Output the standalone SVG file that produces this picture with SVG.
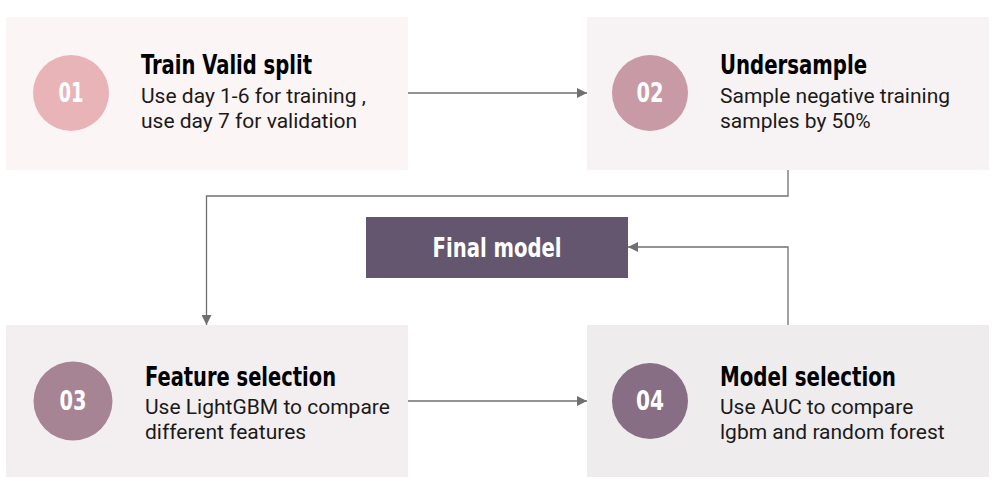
<svg xmlns="http://www.w3.org/2000/svg" width="995" height="493" viewBox="0 0 995 493">
<defs>
<style>
.title{font-family:"Liberation Sans Narrow","DejaVu Sans Condensed","Liberation Sans",sans-serif;font-weight:bold;font-size:26px;fill:#000}
.num{font-family:"Liberation Sans Narrow","DejaVu Sans Condensed","Liberation Sans",sans-serif;font-weight:bold;font-size:26px;fill:#fff;text-anchor:middle}
.body{font-family:Roboto,"Liberation Sans",sans-serif;font-size:21px;fill:#1a1a1a}
.conn{fill:none;stroke:#707070;stroke-width:1.3}
</style>
<marker id="arr" viewBox="0 0 10 10" refX="10" refY="5" markerWidth="10" markerHeight="10" markerUnits="userSpaceOnUse" orient="auto">
<path d="M0,0 L10,5 L0,10 z" fill="#707070"/>
</marker>
</defs>
<rect width="995" height="493" fill="#fff"/>
<g id="connectors">
<path class="conn" d="M408,93 H587" marker-end="url(#arr)"/>
<path class="conn" d="M788,170 V196 H206.5 V325" marker-end="url(#arr)"/>
<path class="conn" d="M408,401 H587" marker-end="url(#arr)"/>
<path class="conn" d="M788,325 V247 H628" marker-end="url(#arr)"/>
</g>
<g id="node1">
<rect x="6" y="17" width="402" height="153" fill="#fbf5f5"/>
<circle cx="71" cy="93" r="38" fill="#e8b4b8"/>
<text class="num" x="71" y="102" textLength="25" lengthAdjust="spacingAndGlyphs">01</text>
<text class="title" x="141" y="74" textLength="171" lengthAdjust="spacingAndGlyphs">Train Valid split</text>
<text class="body" x="141" y="103">Use day 1-6 for training ,</text>
<text class="body" x="141" y="128">use day 7 for validation</text>
</g>
<g id="node2">
<rect x="587" y="17" width="402" height="153" fill="#f7f2f3"/>
<circle cx="650" cy="93" r="38" fill="#c89aa5"/>
<text class="num" x="650" y="102" textLength="27" lengthAdjust="spacingAndGlyphs">02</text>
<text class="title" x="720" y="74" textLength="147" lengthAdjust="spacingAndGlyphs">Undersample</text>
<text class="body" x="720" y="103">Sample negative training</text>
<text class="body" x="720" y="128">samples by 50%</text>
</g>
<g id="node3">
<rect x="6" y="325" width="402" height="152" fill="#f3eff0"/>
<circle cx="73" cy="401" r="39.5" fill="#a68494"/>
<text class="num" x="73" y="410" textLength="27" lengthAdjust="spacingAndGlyphs">03</text>
<text class="title" x="145" y="386" textLength="191" lengthAdjust="spacingAndGlyphs">Feature selection</text>
<text class="body" x="145" y="414">Use LightGBM to compare</text>
<text class="body" x="145" y="439">different features</text>
</g>
<g id="node4">
<rect x="587" y="325" width="402" height="152" fill="#efecee"/>
<circle cx="650" cy="401" r="38" fill="#876e84"/>
<text class="num" x="650" y="410" textLength="28" lengthAdjust="spacingAndGlyphs">04</text>
<text class="title" x="720" y="386" textLength="176" lengthAdjust="spacingAndGlyphs">Model selection</text>
<text class="body" x="720" y="414">Use AUC to compare</text>
<text class="body" x="720" y="439">lgbm and random forest</text>
</g>
<g id="final">
<rect x="366" y="217" width="262" height="61" fill="#64566f"/>
<text class="num" x="497" y="257" font-size="28" textLength="129" lengthAdjust="spacingAndGlyphs">Final model</text>
</g>
</svg>
